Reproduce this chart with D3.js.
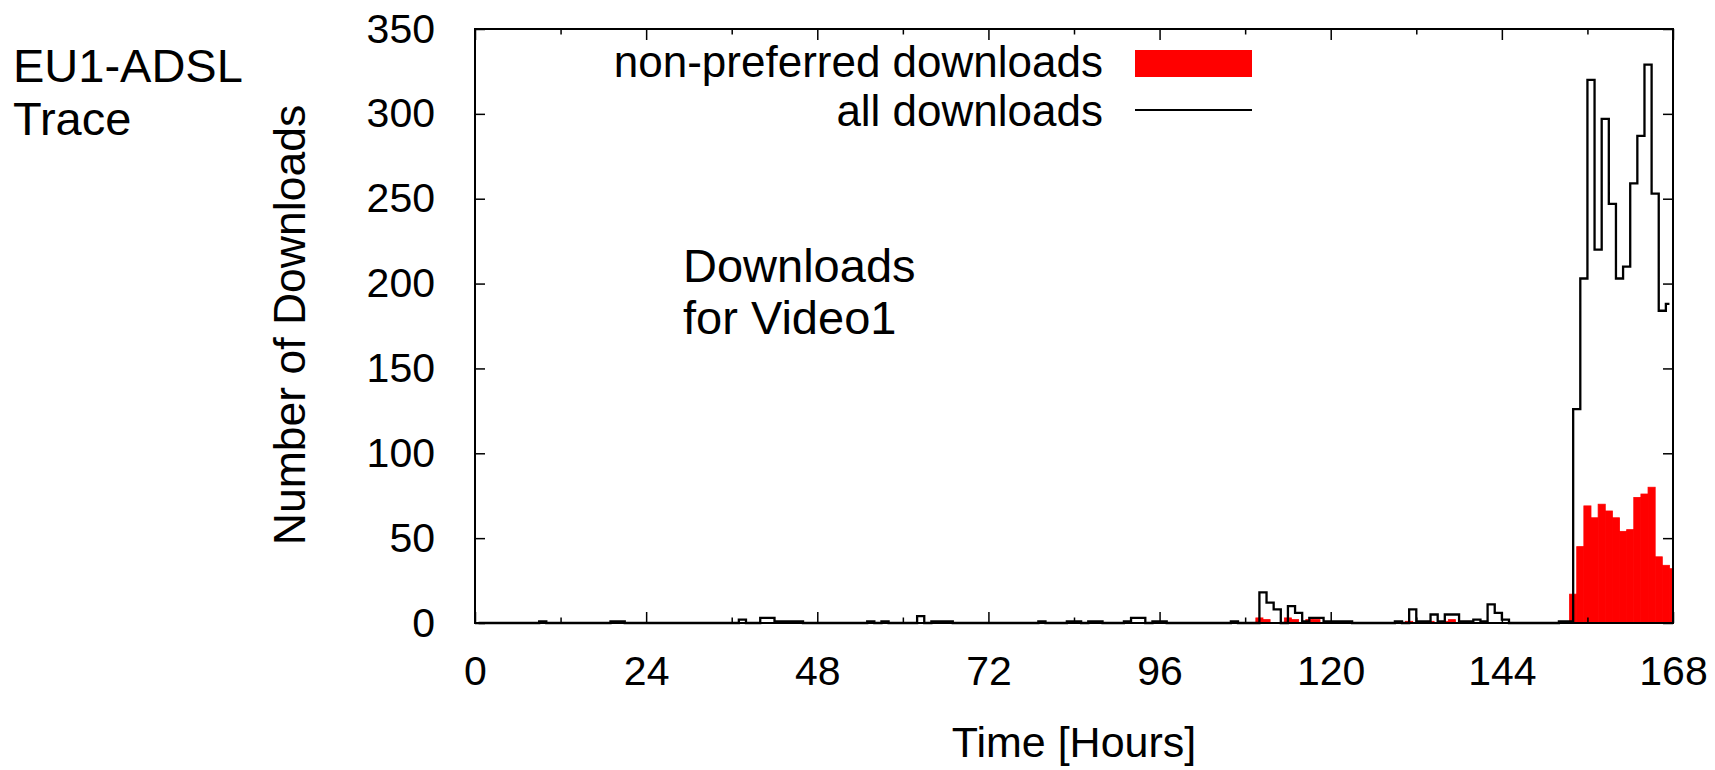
<!DOCTYPE html>
<html>
<head>
<meta charset="utf-8">
<script src="https://cdn.jsdelivr.net/npm/d3@7"></script>
<style>
  body { margin: 0; background: #fff; }
  text { font-family: "Liberation Sans", Arial, sans-serif; fill: #000; }
</style>
</head>
<body>
<div id="main"></div>
<script>
// hour -> number of downloads (hours not listed had none)
var allDownloads = [
  [9,1],[19,1],[20,1],[37,2],[40,3],[41,3],[42,1],[43,1],[44,1],[45,1],
  [55,1],[57,1],[62,4],[64,1],[65,1],[66,1],
  [79,1],[83,1],[84,1],[86,1],[87,1],[91,1],[92,3],[93,3],[95,1],[96,1],
  [106,1],[110,18],[111,12],[112,8],[114,10],[115,6],[116,1],[117,3],[118,3],
  [119,1],[120,1],[121,1],[122,1],
  [129,1],[131,8],[132,1],[133,1],[134,5],[135,1],[136,5],[137,5],[138,1],
  [139,1],[140,2],[141,1],[142,11],[143,6],[144,2],
  [152,1],[153,1],[154,126],[155,203],[156,320],[157,220],[158,297],[159,247],
  [160,203],[161,210],[162,259],[163,287],[164,329],[165,253],[166,184],[167,188]
];
var nonPreferred = [
  [110,3],[111,2],[114,3],[115,2],[117,2],[118,2],[131,1],[134,1],[136,1],[137,2],[139,1],
  [154,17],[155,45],[156,69],[157,62],[158,70],[159,66],[160,62],[161,54],[162,55],
  [163,74],[164,76],[165,80],[166,39],[167,34],[168,32]
];
var xMajorTicks = [0, 24, 48, 72, 96, 120, 144, 168];
var xMinorTicks = [12, 36, 60, 84, 108, 132, 156];
var yTicks = [0, 50, 100, 150, 200, 250, 300, 350];
var legendLabels = ["non-preferred downloads", "all downloads"];

var W = 1715, H = 770;
var pL = 475, pR = 1673, pT = 29, pB = 623;

var svg = d3.select("#main").append("svg")
    .attr("width", W)
    .attr("height", H);

var x = d3.scaleLinear().domain([0, 168]).range([pL, pR]);
var y = d3.scaleLinear().domain([0, 350]).range([pB, pT]);

svg.append("clipPath").attr("id", "plotClip")
  .append("rect")
    .attr("x", pL).attr("y", pT)
    .attr("width", pR - pL).attr("height", pB - pT);

// red boxes, one hour wide, centred on the hour
svg.append("g").attr("clip-path", "url(#plotClip)")
  .selectAll("rect").data(nonPreferred).enter().append("rect")
    .attr("x", d => x(d[0] - 0.5))
    .attr("width", d => x(d[0] + 0.5) - x(d[0] - 0.5))
    .attr("y", d => y(d[1]))
    .attr("height", d => y(0) - y(d[1]))
    .attr("fill", "#ff0000")
    .attr("stroke", "#ff0000")
    .attr("stroke-width", 0.8);

// full hourly series for the step outline
var counts = d3.range(168).map(h => 0);
allDownloads.forEach(d => { counts[d[0]] = d[1]; });

var line = d3.line()
    .x((d, i) => x(i + 0.5))
    .y(d => y(d))
    .curve(d3.curveStep);

svg.append("path")
    .attr("d", line(counts))
    .attr("fill", "none")
    .attr("stroke", "#000")
    .attr("stroke-width", 2.3);

// axes: ticks drawn inward, mirrored on top and right
function clean(g) { g.select(".domain").remove(); g.selectAll("line").attr("stroke", "#000").attr("stroke-width", 1.5); }

svg.append("g").attr("transform", "translate(0," + pB + ")")
  .call(d3.axisBottom(x).tickValues(xMajorTicks).tickSizeInner(-11).tickSizeOuter(0).tickPadding(33).tickFormat(d3.format("d")))
  .call(clean)
  .selectAll("text").style("font-size", "41px");
svg.append("g").attr("transform", "translate(0," + pB + ")")
  .call(d3.axisBottom(x).tickValues(xMinorTicks).tickSizeInner(-5.5).tickSizeOuter(0).tickFormat(""))
  .call(clean);
svg.append("g").attr("transform", "translate(0," + pT + ")")
  .call(d3.axisTop(x).tickValues(xMajorTicks).tickSizeInner(-11).tickSizeOuter(0).tickFormat(""))
  .call(clean);
svg.append("g").attr("transform", "translate(0," + pT + ")")
  .call(d3.axisTop(x).tickValues(xMinorTicks).tickSizeInner(-5.5).tickSizeOuter(0).tickFormat(""))
  .call(clean);

svg.append("g").attr("transform", "translate(" + pL + ",0)")
  .call(d3.axisLeft(y).tickValues(yTicks).tickSizeInner(-10).tickSizeOuter(0).tickPadding(40))
  .call(clean)
  .selectAll("text").style("font-size", "41px");
svg.append("g").attr("transform", "translate(" + pR + ",0)")
  .call(d3.axisRight(y).tickValues(yTicks).tickSizeInner(-10).tickSizeOuter(0).tickFormat(""))
  .call(clean);

// frame
svg.append("rect")
    .attr("x", pL).attr("y", pT)
    .attr("width", pR - pL).attr("height", pB - pT)
    .attr("fill", "none")
    .attr("stroke", "#000")
    .attr("stroke-width", 2);

// axis titles
svg.append("text")
    .attr("x", (pL + pR) / 2).attr("y", 757)
    .attr("text-anchor", "middle")
    .style("font-size", "43px")
    .text("Time [Hours]");
svg.append("text")
    .attr("transform", "translate(305,325) rotate(-90)")
    .attr("text-anchor", "middle")
    .style("font-size", "44.5px")
    .text("Number of Downloads");

// legend
svg.append("text").attr("x", 1103).attr("y", 77).attr("text-anchor", "end")
    .style("font-size", "44px").text(legendLabels[0]);
svg.append("rect").attr("x", 1135).attr("y", 50).attr("width", 117).attr("height", 27)
    .attr("fill", "#ff0000");
svg.append("text").attr("x", 1103).attr("y", 126).attr("text-anchor", "end")
    .style("font-size", "44px").text(legendLabels[1]);
svg.append("line").attr("x1", 1135).attr("x2", 1252).attr("y1", 110).attr("y2", 110)
    .attr("stroke", "#000").attr("stroke-width", 2);

// annotations
svg.append("text").attr("x", 13).attr("y", 82).style("font-size", "47px").text("EU1-ADSL");
svg.append("text").attr("x", 13).attr("y", 135).style("font-size", "47px").text("Trace");
svg.append("text").attr("x", 683).attr("y", 282).style("font-size", "47px").text("Downloads");
svg.append("text").attr("x", 683).attr("y", 334).style("font-size", "47px").text("for Video1");
</script>
</body>
</html>
